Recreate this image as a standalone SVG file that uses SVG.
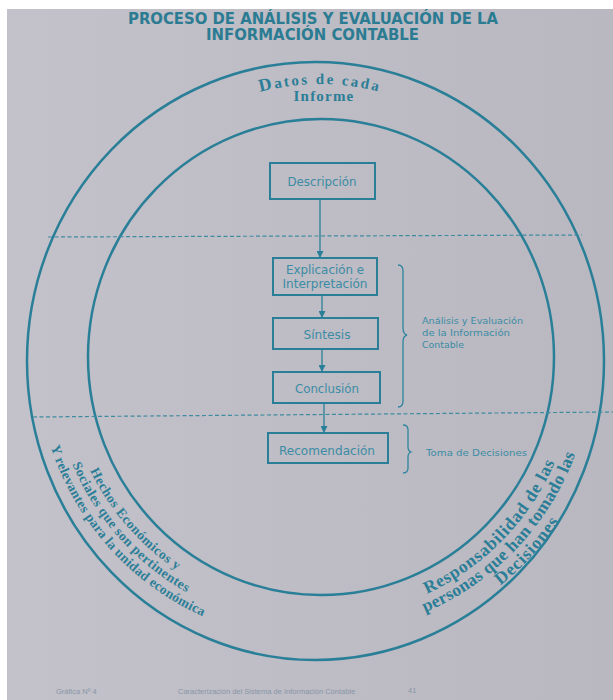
<svg xmlns="http://www.w3.org/2000/svg" width="613" height="700" viewBox="0 0 613 700">
<defs>
<linearGradient id="paper" x1="0" y1="0" x2="1" y2="0">
<stop offset="0" stop-color="#c3c1c9"/>
<stop offset="1" stop-color="#b9b7bf"/>
</linearGradient>
<marker id="ah" viewBox="0 0 10 10" refX="10" refY="5" markerWidth="7" markerHeight="7" markerUnits="userSpaceOnUse" orient="auto">
<path d="M0,0 L10,5 L0,10 z" fill="#2a7f98"/>
</marker>
<path id="pTop1" d="M241.3,97.9 A230,230 0 0 1 398.7,97.9"/>
<path id="pL1" d="M90.1,470.5 A253,253 0 0 0 274.1,609.2"/>
<path id="pL2" d="M72.2,464.3 A267,267 0 0 0 271.6,622.9"/>
<path id="pL3" d="M50.7,446.8 A281,281 0 0 0 269.2,636.7"/>
<path id="pR1" d="M427.0,593.8 A258,258 0 0 0 572.1,404.8"/>
<path id="pR2" d="M425.1,612.2 A274,274 0 0 0 587.8,407.6"/>
<path id="pR3" d="M500.5,585.4 A290,290 0 0 0 603.6,410.4"/>
</defs>
<style>
.ring{fill:none;stroke:#2a7f98;stroke-width:2.5}
.dash{fill:none;stroke:#3f8ba2;stroke-width:1.2;stroke-dasharray:4 2.5}
.box{fill:none;stroke:#2a7f98;stroke-width:2}
.lbl{font-family:"DejaVu Sans",sans-serif;font-size:12px;fill:#3b8ca5;text-anchor:middle}
.side{font-family:"DejaVu Sans",sans-serif;font-size:9.5px;fill:#3b8ca5}
.brace{fill:none;stroke:#2f869e;stroke-width:1.3}
.title{font-family:"DejaVu Sans",sans-serif;font-weight:bold;font-size:15px;fill:#2b7c93;text-anchor:middle}
.arc{font-family:"Liberation Serif",serif;font-weight:bold;fill:#2b7e97}
.conn{fill:none;stroke:#2a7f98;stroke-width:1.3}
.foot{font-family:"Liberation Sans",sans-serif;font-size:7.5px;fill:#8797a7}
</style>
<rect width="613" height="700" fill="#ffffff"/>
<rect x="7" y="9" width="606" height="691" fill="url(#paper)"/>

<g id="title">
<text class="title" x="313" y="24" textLength="370" lengthAdjust="spacingAndGlyphs">PROCESO DE ANÁLISIS Y EVALUACIÓN DE LA</text>
<text class="title" x="312.5" y="40" textLength="213" lengthAdjust="spacingAndGlyphs">INFORMACIÓN CONTABLE</text>
</g>

<g id="rings">
<ellipse class="ring" cx="315.5" cy="361" rx="288.5" ry="299"/>
<ellipse class="ring" cx="321" cy="357" rx="233" ry="238"/>
</g>

<g id="dividers">
<line class="dash" x1="48" y1="237" x2="582" y2="235"/>
<line class="dash" x1="33" y1="417" x2="613" y2="412"/>
</g>

<g id="ring-labels">
<text class="arc" font-size="15" letter-spacing="2.3" text-anchor="middle"><textPath href="#pTop1" startOffset="50%"><tspan font-size="18">D</tspan>atos de cada</textPath></text>
<text class="arc" font-size="15" letter-spacing="1.2" text-anchor="middle" x="324" y="101">Informe</text>
<text class="arc" font-size="13.5" letter-spacing="0.5"><textPath href="#pL1">Hechos Económicos y</textPath></text>
<text class="arc" font-size="13.5" letter-spacing="0.5"><textPath href="#pL2">Sociales que son pertinentes</textPath></text>
<text class="arc" font-size="13.5" letter-spacing="0.3"><textPath href="#pL3">Y relevantes para la unidad económica</textPath></text>
<text class="arc" font-size="17.5" letter-spacing="0.8"><textPath href="#pR1">Responsabilidad de las</textPath></text>
<text class="arc" font-size="17.5" letter-spacing="0.3"><textPath href="#pR2">personas que han tomado las</textPath></text>
<text class="arc" font-size="17.5" letter-spacing="1"><textPath href="#pR3">Decisiones</textPath></text>
</g>

<g id="n-descripcion">
<rect class="box" x="270" y="163" width="105" height="36"/>
<text class="lbl" x="322" y="186" textLength="69" lengthAdjust="spacingAndGlyphs">Descripción</text>
</g>
<g id="n-explicacion">
<rect class="box" x="273" y="258" width="104" height="37"/>
<text class="lbl" x="325" y="274" textLength="78" lengthAdjust="spacingAndGlyphs">Explicación e</text>
<text class="lbl" x="325" y="288" textLength="85" lengthAdjust="spacingAndGlyphs">Interpretación</text>
</g>
<g id="n-sintesis">
<rect class="box" x="273" y="318" width="105" height="31"/>
<text class="lbl" x="327" y="339" textLength="47" lengthAdjust="spacingAndGlyphs">Síntesis</text>
</g>
<g id="n-conclusion">
<rect class="box" x="273" y="372" width="107" height="31"/>
<text class="lbl" x="327" y="393" textLength="64" lengthAdjust="spacingAndGlyphs">Conclusión</text>
</g>
<g id="n-recomendacion">
<rect class="box" x="268" y="433" width="120" height="30"/>
<text class="lbl" x="327" y="455" textLength="96" lengthAdjust="spacingAndGlyphs">Recomendación</text>
</g>

<g id="connectors">
<line class="conn" x1="320" y1="199" x2="320" y2="258" marker-end="url(#ah)"/>
<line class="conn" x1="322" y1="295" x2="322" y2="318" marker-end="url(#ah)"/>
<line class="conn" x1="322" y1="349" x2="322" y2="372" marker-end="url(#ah)"/>
<line class="conn" x1="324" y1="403" x2="324" y2="433" marker-end="url(#ah)"/>
</g>

<g id="g-analisis">
<path class="brace" d="M398,265 Q403,265 403,271 L403,328 Q403,334 407,335 Q403,336 403,342 L403,401 Q403,407 398,407"/>
<text class="side" x="422" y="324" textLength="101" lengthAdjust="spacingAndGlyphs">Análisis y Evaluación</text>
<text class="side" x="422" y="336" textLength="88" lengthAdjust="spacingAndGlyphs">de la Información</text>
<text class="side" x="422" y="348" textLength="42" lengthAdjust="spacingAndGlyphs">Contable</text>
</g>
<g id="g-toma">
<path class="brace" d="M403,425 Q408,425 408,430 L408,447 Q408,451 411,452 Q408,453 408,457 L408,468 Q408,473 403,473"/>
<text class="side" x="426" y="456" textLength="101" lengthAdjust="spacingAndGlyphs">Toma de Decisiones</text>
</g>

<g id="footer">
<text class="foot" x="56" y="694">Gráfica Nº 4</text>
<text class="foot" x="178" y="694">Caracterización del Sistema de Información Contable</text>
<text class="foot" x="408" y="693">41</text>
</g>
</svg>
